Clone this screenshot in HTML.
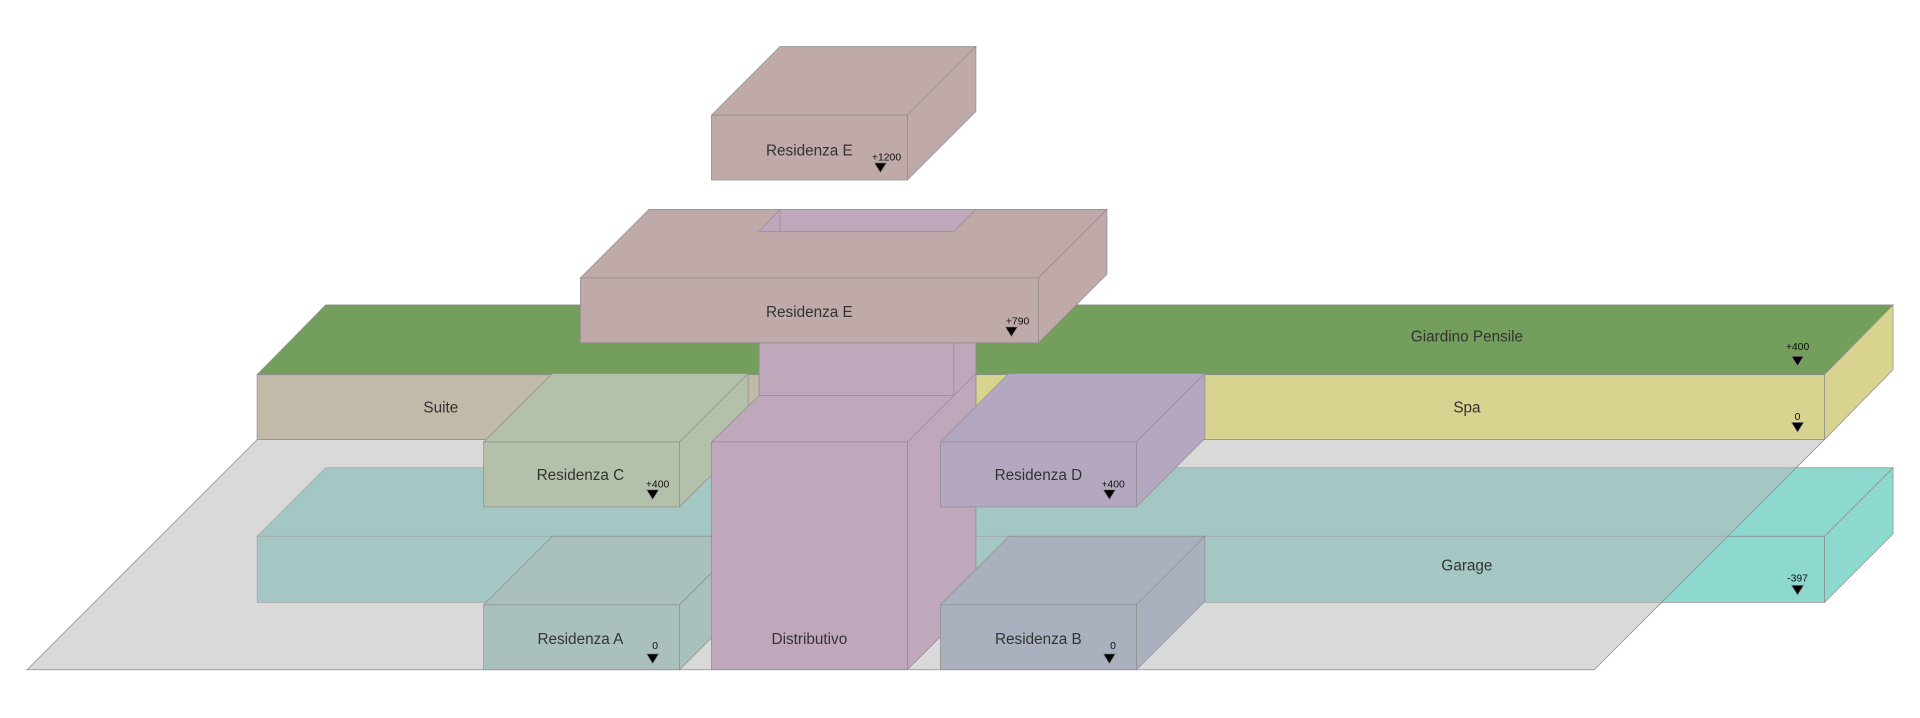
<!DOCTYPE html>
<html><head><meta charset="utf-8"><style>
html,body{margin:0;padding:0;background:#fff;width:1920px;height:718px;overflow:hidden}
svg{display:block}
text{font-family:"Liberation Sans",sans-serif;fill:#333}
.l{font-size:12.5px;text-anchor:middle}
.s{font-size:8.5px;text-anchor:middle;fill:#111}
polygon,rect{stroke:#8f8f8f;stroke-width:0.6}
</style></head><body>
<svg width="1920" height="718" viewBox="0 0 1568 586.4" preserveAspectRatio="none">
<!-- Giardino / Suite / Spa -->
<polygon points="210,306 266,249 1546,249 1490,306" fill="#739e5c"/>
<polygon points="1490,306 1546,249 1546,302 1490,359" fill="#d8d38e"/>
<rect x="210" y="306" width="410" height="53" fill="#c2baa8"/>
<rect x="797" y="306" width="693" height="53" fill="#d8d38e"/>
<!-- Garage -->
<polygon points="210,438 266,382 1546,382 1490,438" fill="#8dd8cf"/>
<polygon points="1490,438 1546,382 1546,436 1490,492" fill="#8dd8cf"/>
<rect x="210" y="438" width="1280" height="54" fill="#8dd8cf"/>
<!-- Ground (translucent) -->
<polygon points="22,547 210,359 1490,359 1302,547" fill="rgb(185,185,185)" fill-opacity="0.544" stroke="#bbb"/>
<!-- Shaft upper -->
<rect x="620" y="280" width="159" height="43" fill="#bfa8bc"/>
<rect x="779" y="280" width="18" height="43" fill="#bfa8bc"/>
<!-- Residenza E 790 -->
<polygon points="474,227 530,171 904,171 848,227" fill="#c0a9a9"/>
<polygon points="620,189 637,171 797,171 779,189" fill="#bfa8bc"/>
<line x1="637" y1="171" x2="637" y2="189" stroke="#8f8f8f" stroke-width="0.6"/>
<polygon points="848,227 904,171 904,224 848,280" fill="#c0a9a9"/>
<rect x="474" y="227" width="374" height="53" fill="#c0a9a9"/>
<!-- Res C -->
<polygon points="395,361 451,305 611,305 555,361" fill="#b4c1aa"/>
<polygon points="555,361 611,305 611,358 555,414" fill="#b4c1aa"/>
<rect x="395" y="361" width="160" height="53" fill="#b4c1aa"/>
<!-- Res A -->
<polygon points="395,494 451,438 611,438 555,494" fill="#a9c0bc"/>
<polygon points="555,494 611,438 611,491 555,547" fill="#a9c0bc"/>
<rect x="395" y="494" width="160" height="53" fill="#a9c0bc"/>
<!-- Distributivo -->
<polygon points="581,361 620,323 779,323 741,361" fill="#bfa8bc"/>
<polygon points="741,361 779,323 797,305 797,491 741,547" fill="#bfa8bc"/>
<rect x="581" y="361" width="160" height="186" fill="#bfa8bc"/>
<!-- Res D -->
<polygon points="768,361 824,305 984,305 928,361" fill="#b3a8bf"/>
<polygon points="928,361 984,305 984,358 928,414" fill="#b3a8bf"/>
<rect x="768" y="361" width="160" height="53" fill="#b3a8bf"/>
<!-- Res B -->
<polygon points="768,494 824,438 984,438 928,494" fill="#a9b1bf"/>
<polygon points="928,494 984,438 984,491 928,547" fill="#a9b1bf"/>
<rect x="768" y="494" width="160" height="53" fill="#a9b1bf"/>
<!-- Residenza E 1200 -->
<polygon points="581,94 637,38 797,38 741,94" fill="#c0a9a9"/>
<polygon points="741,94 797,38 797,91 741,147" fill="#c0a9a9"/>
<rect x="581" y="94" width="160" height="53" fill="#c0a9a9"/>

<!-- labels -->
<text class="l" x="661" y="127">Residenza E</text>
<text class="s" x="724" y="131">+1200</text><polygon points="714,133 724,133 719,141" fill="#000" stroke="none"/>
<text class="l" x="661" y="259">Residenza E</text>
<text class="s" x="831" y="265">+790</text><polygon points="821,267 831,267 826,275" fill="#000" stroke="none"/>
<text class="l" x="1198" y="279">Giardino Pensile</text>
<text class="s" x="1468" y="286">+400</text><polygon points="1463,291 1473,291 1468,299" fill="#000" stroke="none"/>
<text class="l" x="360" y="337">Suite</text>
<text class="l" x="1198" y="337">Spa</text>
<text class="s" x="1468" y="343">0</text><polygon points="1463,345 1473,345 1468,353" fill="#000" stroke="none"/>
<text class="l" x="474" y="392">Residenza C</text>
<text class="s" x="537" y="398">+400</text><polygon points="528,400 538,400 533,408" fill="#000" stroke="none"/>
<text class="l" x="848" y="392">Residenza D</text>
<text class="s" x="909" y="398">+400</text><polygon points="901,400 911,400 906,408" fill="#000" stroke="none"/>
<text class="l" x="1198" y="466">Garage</text>
<text class="s" x="1468" y="475">-397</text><polygon points="1463,478 1473,478 1468,486" fill="#000" stroke="none"/>
<text class="l" x="474" y="526">Residenza A</text>
<text class="s" x="535" y="530">0</text><polygon points="528,534 538,534 533,542" fill="#000" stroke="none"/>
<text class="l" x="661" y="526">Distributivo</text>
<text class="l" x="848" y="526">Residenza B</text>
<text class="s" x="909" y="530">0</text><polygon points="901,534 911,534 906,542" fill="#000" stroke="none"/>
</svg>
</body></html>
